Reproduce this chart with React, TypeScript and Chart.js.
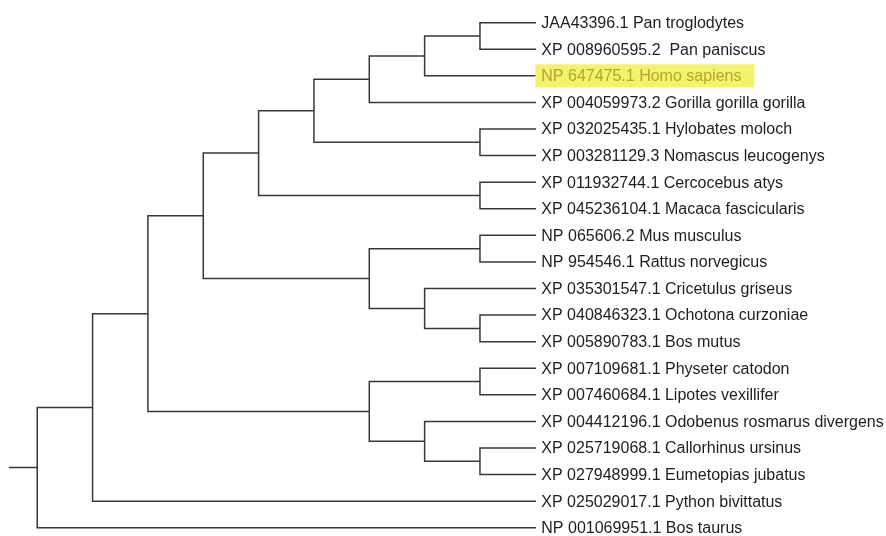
import React, { useEffect, useRef } from "react";
import { Chart, registerables } from "chart.js";

Chart.register(...registerables);

// Leaf labels, top to bottom
const leafLabels: string[] = [
  "JAA43396.1 Pan troglodytes",
  "XP 008960595.2  Pan paniscus",
  "NP 647475.1 Homo sapiens",
  "XP 004059973.2 Gorilla gorilla gorilla",
  "XP 032025435.1 Hylobates moloch",
  "XP 003281129.3 Nomascus leucogenys",
  "XP 011932744.1 Cercocebus atys",
  "XP 045236104.1 Macaca fascicularis",
  "NP 065606.2 Mus musculus",
  "NP 954546.1 Rattus norvegicus",
  "XP 035301547.1 Cricetulus griseus",
  "XP 040846323.1 Ochotona curzoniae",
  "XP 005890783.1 Bos mutus",
  "XP 007109681.1 Physeter catodon",
  "XP 007460684.1 Lipotes vexillifer",
  "XP 004412196.1 Odobenus rosmarus divergens",
  "XP 025719068.1 Callorhinus ursinus",
  "XP 027948999.1 Eumetopias jubatus",
  "XP 025029017.1 Python bivittatus",
  "NP 001069951.1 Bos taurus",
];

// Tree topology: nested clades of leaf indexes
const primates = [[[[[0, 1], 2], 3], [4, 5]], [6, 7]];
const glires = [[8, 9], [10, [11, 12]]];
const marine = [[13, 14], [15, [16, 17]]];
const tree = [[[[primates, glires], marine], 18], 19];

const highlightedLeaves: number[] = [2];
const rootStubLength = 0.5;

type Node = { h: number; y: number };
type Pt = { x: number; y: number | null };

function layout(node: any, pts: Pt[]): Node {
  if (typeof node === "number") return { h: 0, y: node };
  const kids: Node[] = node.map((c: any) => layout(c, pts));
  const h = Math.max(...kids.map((k) => k.h)) + 1;
  const y = (kids[0].y + kids[kids.length - 1].y) / 2;
  // vertical connector
  pts.push({ x: h, y: kids[0].y }, { x: h, y: kids[kids.length - 1].y }, { x: h, y: null });
  // horizontal branches
  kids.forEach((k) => {
    pts.push({ x: h, y: k.y }, { x: k.h, y: k.y }, { x: k.h, y: null });
  });
  return { h, y };
}

export default function App() {
  const ref = useRef<HTMLCanvasElement>(null);

  useEffect(() => {
    if (!ref.current) return;
    const pts: Pt[] = [];
    const root = layout(tree, pts);
    pts.push({ x: root.h + rootStubLength, y: root.y }, { x: root.h, y: root.y });

    const labelPlugin = {
      id: "leafLabels",
      afterDatasetsDraw(chart: any) {
        const { ctx } = chart;
        const xs = chart.scales.x;
        const ys = chart.scales.y;
        const tipX = xs.getPixelForValue(0);
        ctx.save();
        ctx.font = '16px "Liberation Sans", Arial, sans-serif';
        ctx.textBaseline = "middle";
        ctx.textAlign = "left";
        leafLabels.forEach((lab, i) => {
          const py = ys.getPixelForValue(i);
          const tx = tipX + 6;
          if (highlightedLeaves.includes(i)) {
            const w = ctx.measureText(lab).width;
            ctx.fillStyle = "#f5f06e";
            ctx.fillRect(tipX, py - 11.5, w + 19, 23);
            ctx.fillStyle = "#b3a72a";
          } else {
            ctx.fillStyle = "#1e1e1e";
          }
          ctx.fillText(lab, tx, py + 1);
        });
        ctx.restore();
      },
    };

    const chart = new Chart(ref.current, {
      type: "scatter",
      data: {
        datasets: [
          {
            data: pts as any,
            showLine: true,
            spanGaps: false,
            pointRadius: 0,
            borderColor: "#383838",
            borderWidth: 1.5,
            borderCapStyle: "square",
            clip: false as any,
          },
        ],
      },
      options: {
        animation: false,
        responsive: false,
        layout: { padding: 0, autoPadding: false },
        plugins: { legend: { display: false }, tooltip: { enabled: false } },
        scales: {
          x: { type: "linear", display: false, reverse: true, min: -6.337, max: 9.673, bounds: "data" },
          y: { type: "linear", display: false, reverse: true, min: -0.854, max: 19.311, bounds: "data" },
        },
      },
      plugins: [labelPlugin],
    });
    return () => chart.destroy();
  }, []);

  return (
    <div style={{ position: "fixed", left: 0, top: 0, width: 886, height: 536, background: "#fff" }}>
      <canvas ref={ref} width={886} height={536} style={{ display: "block" }} />
    </div>
  );
}
